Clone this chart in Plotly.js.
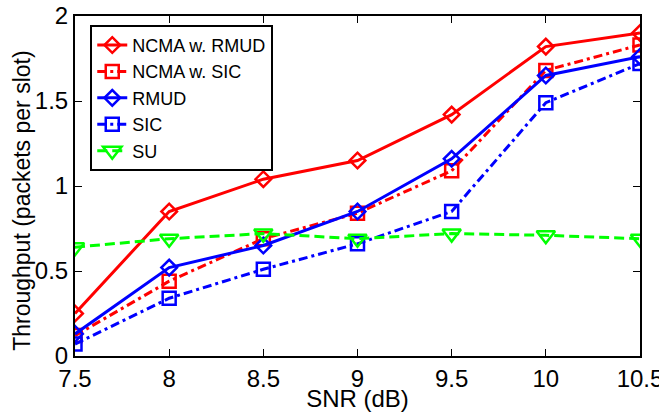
<!DOCTYPE html>
<html>
<head>
<meta charset="utf-8">
<script src="https://cdn.plot.ly/plotly-3.0.1.min.js"></script>
<style>html,body{margin:0;padding:0;background:#fff;}#chart{width:659px;height:412px;}</style>
</head>
<body>
<div id="chart"></div>
<script>
const snr = [7.5, 8, 8.5, 9, 9.5, 10, 10.5];
const ncmaRmud = [0.25, 0.85, 1.04, 1.15, 1.42, 1.82, 1.90];
const ncmaSic = [0.12, 0.44, 0.69, 0.84, 1.09, 1.68, 1.83];
const rmud = [0.13, 0.52, 0.65, 0.85, 1.16, 1.65, 1.76];
const sic = [0.07, 0.34, 0.51, 0.66, 0.85, 1.49, 1.72];
const su = [0.64, 0.69, 0.72, 0.69, 0.72, 0.71, 0.69];
const xTicks = [7.5, 8, 8.5, 9, 9.5, 10, 10.5];
const xTickText = ['7.5', '8', '8.5', '9', '9.5', '10', '10.5'];
const yTicks = [0, 0.5, 1, 1.5, 2];
const yTickText = ['0', '0.5', '1', '1.5', '2'];
const xTitle = 'SNR (dB)';
const yTitle = 'Throughput (packets per slot)';

const RED = '#ff0000', BLUE = '#0000ff', GREEN = '#00ff00';
const DASHDOT = '9px,4px,3px,4px', DASH = '10px,5px';
function tr(name, y, color, dash, symbol, size) {
  return {
    x: snr, y: y, name: name, type: 'scatter', mode: 'lines+markers',
    line: {color: color, width: 3, dash: dash},
    marker: {symbol: symbol, size: size, color: color, line: {color: color, width: 2.5}}
  };
}
const data = [
  tr('NCMA w. RMUD', ncmaRmud, RED, 'solid', 'diamond-open', 12),
  tr('NCMA w. SIC', ncmaSic, RED, DASHDOT, 'square-open', 13),
  tr('RMUD', rmud, BLUE, 'solid', 'diamond-open', 12),
  tr('SIC', sic, BLUE, DASHDOT, 'square-open', 13),
  tr('SU', su, GREEN, DASH, 'triangle-down-open', 16)
];
const font = {family: 'Liberation Sans, Arial, sans-serif', color: '#000'};
const layout = {
  width: 659, height: 412,
  margin: {l: 75, r: 19, t: 16, b: 56},
  paper_bgcolor: '#fff', plot_bgcolor: '#fff',
  font: Object.assign({size: 20}, font),
  showlegend: true,
  legend: {
    x: 0.027, y: 0.974, xanchor: 'left', yanchor: 'top',
    bgcolor: '#fff', bordercolor: '#000', borderwidth: 2,
    font: Object.assign({size: 18}, font),
    tracegroupgap: 0, itemwidth: 30
  },
  xaxis: {
    range: [7.5, 10.5], tickmode: 'array', tickvals: xTicks, ticktext: xTickText,
    ticks: 'inside', ticklen: 7, tickwidth: 1, tickcolor: '#000',
    showline: true, linecolor: '#000', linewidth: 2, mirror: 'ticks',
    showgrid: false, zeroline: false, ticklabeloverflow: 'allow',
    tickfont: Object.assign({size: 24}, font),
    title: {text: xTitle, font: Object.assign({size: 24}, font), standoff: 0}
  },
  yaxis: {
    range: [0, 2], tickmode: 'array', tickvals: yTicks, ticktext: yTickText,
    ticks: 'inside', ticklen: 7, tickwidth: 1, tickcolor: '#000',
    showline: true, linecolor: '#000', linewidth: 2, mirror: 'ticks',
    showgrid: false, zeroline: false, ticklabeloverflow: 'allow',
    tickfont: Object.assign({size: 24}, font)
  },
  annotations: [{
    text: yTitle, xref: 'paper', yref: 'paper', x: -0.094, y: 0.456,
    xanchor: 'center', yanchor: 'middle', textangle: -90, showarrow: false,
    font: Object.assign({size: 23}, font)
  }]
};
Plotly.newPlot('chart', data, layout, {displayModeBar: false, staticPlot: true});
</script>
</body>
</html>
